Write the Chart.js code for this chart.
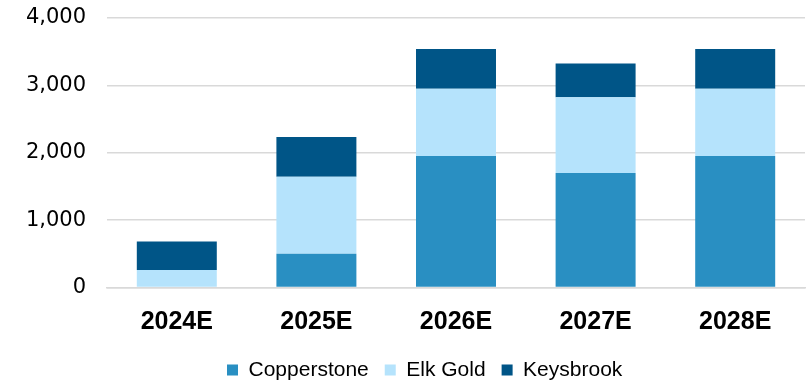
<!DOCTYPE html>
<html>
<head>
<meta charset="utf-8">
<script src="https://cdn.jsdelivr.net/npm/chart.js@4.4.0/dist/chart.umd.min.js"></script>
<style>
  html, body { margin: 0; padding: 0; background: #fff; }
  #wrap { width: 808px; height: 381px; }
</style>
</head>
<body>
<div id="wrap"><canvas id="chart" width="808" height="381"></canvas></div>
<script>
const years = ['2024E', '2025E', '2026E', '2027E', '2028E'];
const copperstone = [0, 500, 1950, 1700, 1950];
const elkGold = [260, 1145, 1000, 1125, 1000];
const keysbrook = [422, 590, 590, 500, 590];
const yTicks = [0, 1000, 2000, 3000, 4000];

// nudge the legend so it starts at a fixed x and its text sits at a fixed y
const legendPlace = {
  id: 'legendPlace',
  afterLayout(chart) {
    const lg = chart.legend;
    if (!lg || !lg.lineWidths) return;
    const pad = lg.options.labels.padding;
    const startX = (lg.left + pad + lg.right - lg.lineWidths[0]) / 2;
    const dx = 227 - startX;
    lg.left += dx;
    lg.right += dx;
    const fs = lg.options.labels.font.size;
    const dy = 370 - (lg.top + pad + fs / 2);
    lg.top += dy;
    lg.bottom += dy;
  }
};

const ctx = document.getElementById('chart').getContext('2d');
new Chart(ctx, {
  type: 'bar',
  data: {
    labels: years,
    datasets: [
      { label: 'Copperstone', data: copperstone, backgroundColor: '#298fc2' },
      { label: 'Elk Gold', data: elkGold, backgroundColor: '#b5e3fc' },
      { label: 'Keysbrook', data: keysbrook, backgroundColor: '#005587' }
    ]
  },
  plugins: [legendPlace],
  options: {
    responsive: false,
    animation: false,
    devicePixelRatio: 1,
    categoryPercentage: 1,
    barPercentage: 0.573,
    layout: { padding: { left: 26, right: 3, top: 18, bottom: 0 } },
    plugins: {
      tooltip: { enabled: false },
      legend: {
        position: 'bottom',
        labels: {
          boxWidth: 11,
          boxHeight: 11,
          padding: 16,
          color: '#000',
          font: { family: '"Liberation Sans", Arial, sans-serif', size: 21 }
        }
      }
    },
    scales: {
      x: {
        stacked: true,
        grid: { display: false, drawTicks: false },
        border: { color: '#d9d9d9', width: 1.5 },
        afterFit: axis => { axis.height = 46.5; },
        ticks: {
          color: '#000',
          padding: 19.5,
          font: { family: '"Liberation Sans", Arial, sans-serif', size: 25, weight: 'bold' }
        }
      },
      y: {
        stacked: true,
        min: 0,
        max: 4000,
        afterBuildTicks: axis => { axis.ticks = yTicks.map(v => ({ value: v })); },
        afterFit: axis => {
          axis.width = 81;
          axis.paddingTop = 0;
          axis.paddingBottom = 0;
        },
        grid: { color: '#d9d9d9', lineWidth: 1.5, drawTicks: false },
        border: { display: false },
        ticks: {
          color: '#000',
          padding: 21,
          font: { family: '"DejaVu Sans", Verdana, sans-serif', size: 21 },
          callback: v => v.toLocaleString('en-US')
        }
      }
    }
  }
});
</script>
</body>
</html>
